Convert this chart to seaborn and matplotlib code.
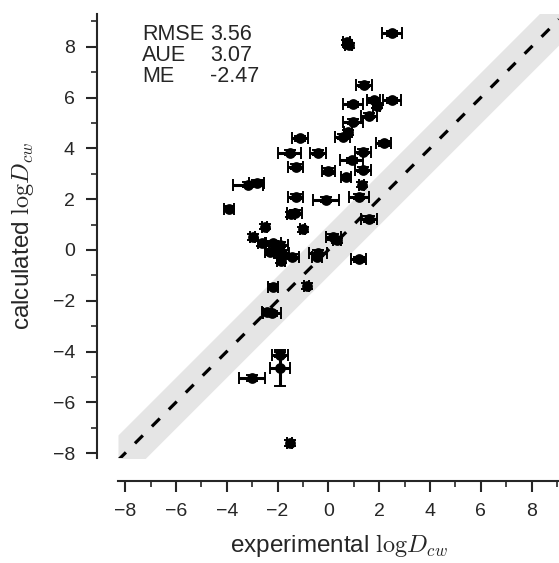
import numpy as np
import pandas as pd
import seaborn as sns
import matplotlib.pyplot as plt
from matplotlib.ticker import MultipleLocator, AutoMinorLocator

# experimental vs calculated logD_cw
exp_logd = [2.50, 0.72, 0.80, 1.40, 0.97, 1.79, 1.90, 2.50, 1.60, 0.97,
            0.77, 0.57, 2.18, -1.12, -1.52, -0.41, 0.92, 1.36, -1.28, 0.00,
            0.69, 1.36, 1.32, -3.17, -2.82, -3.90, -1.28, -0.10, 1.20, -1.32,
            -1.48, 1.60, -2.50, -1.00, -2.97, 0.20, 0.33, -2.62, -2.18, -1.90,
            -2.03, -2.30, -1.83, -1.44, -1.87, -0.41, -0.45, 1.20, -2.18, -0.85,
            -2.22, -2.40, -1.90, -1.90, -3.00, -1.52]
calc_logd = [8.54, 8.18, 8.05, 6.50, 5.73, 5.90, 5.67, 5.90, 5.28, 5.04,
             4.64, 4.45, 4.20, 4.40, 3.82, 3.82, 3.54, 3.86, 3.27, 3.11,
             2.87, 3.15, 2.56, 2.56, 2.64, 1.63, 2.09, 1.97, 2.09, 1.46,
             1.40, 1.22, 0.91, 0.82, 0.51, 0.51, 0.39, 0.27, 0.27, 0.20,
             0.00, -0.08, -0.12, -0.27, -0.43, -0.12, -0.27, -0.36, -1.44, -1.42,
             -2.49, -2.44, -4.13, -4.65, -5.04, -7.60]
exp_err = [0.40, 0.15, 0.15, 0.30, 0.38, 0.25, 0.15, 0.35, 0.30, 0.40,
           0.15, 0.30, 0.30, 0.30, 0.45, 0.30, 0.45, 0.30, 0.30, 0.25,
           0.20, 0.30, 0.10, 0.60, 0.30, 0.20, 0.30, 0.50, 0.40, 0.30,
           0.15, 0.30, 0.10, 0.10, 0.10, 0.30, 0.15, 0.15, 0.30, 0.30,
           0.30, 0.20, 0.30, 0.30, 0.15, 0.35, 0.20, 0.30, 0.20, 0.10,
           0.35, 0.20, 0.30, 0.40, 0.50, 0.10]
calc_err = [0.10] * 53 + [0.70, 0.10, 0.10]

stat_names = ["RMSE", "AUE", "ME"]
stat_values = ["3.56", "3.07", "-2.47"]

df = pd.DataFrame({"exp": exp_logd, "calc": calc_logd,
                   "exp_err": exp_err, "calc_err": calc_err})

sns.set_style("ticks")
plt.rcParams["font.family"] = ["Liberation Sans", "DejaVu Sans"]
plt.rcParams["mathtext.fontset"] = "cm"
dark = "#262626"

fig = plt.figure(figsize=(5.59, 5.63), dpi=100)
ax = fig.add_axes([118 / 559, 105 / 563, 441 / 559, 444 / 563])

lo, hi = -8.28, 9.08
ax.set_xlim(lo, hi)
ax.set_ylim(-8.19, 9.29)

# parity line with +/- 1 log unit band
diag = np.array([lo, hi])
ax.fill_between(diag, diag - 1, diag + 1, color="#e5e5e5", lw=0, zorder=1)
ax.plot(diag, diag, color="black", lw=2.3, dashes=(3.5, 4.0), zorder=2)

ax.errorbar(df["exp"], df["calc"], xerr=df["exp_err"], yerr=df["calc_err"],
            fmt="none", ecolor="black", elinewidth=2.2, capsize=4.5,
            capthick=1.4, zorder=3)
sns.scatterplot(data=df, x="exp", y="calc", ax=ax, color="black", s=60,
                edgecolor="black", linewidth=0, zorder=4)

ax.text(0.054, 0.977, "\n".join(stat_names), transform=ax.transAxes,
        ha="left", va="top", fontsize=15.5, color=dark, linespacing=0.98)
ax.text(0.209, 0.977, "\n".join(stat_values), transform=ax.transAxes,
        ha="left", va="top", fontsize=15.5, color=dark, linespacing=0.98)

ax.xaxis.set_major_locator(MultipleLocator(2))
ax.yaxis.set_major_locator(MultipleLocator(2))
ax.xaxis.set_minor_locator(AutoMinorLocator(2))
ax.yaxis.set_minor_locator(AutoMinorLocator(2))
ax.tick_params(which="major", length=8, width=1.5, color=dark,
               labelsize=14, labelcolor=dark, pad=8)
ax.tick_params(which="minor", length=4.5, width=1.2, color=dark)

ax.set_xlabel(r"experimental $\mathrm{log}D_{cw}$", fontsize=17.5, color=dark)
ax.set_ylabel(r"calculated $\mathrm{log}D_{cw}$", fontsize=17.5, color=dark)
ax.xaxis.set_label_coords(0.5, -0.166)
ax.yaxis.set_label_coords(-0.187, 0.5)

sns.despine(ax=ax, offset={"left": 15, "bottom": 16.5})
for side in ["left", "bottom"]:
    ax.spines[side].set_linewidth(1.5)
    ax.spines[side].set_color(dark)

fig.savefig("out.png", dpi=100)
